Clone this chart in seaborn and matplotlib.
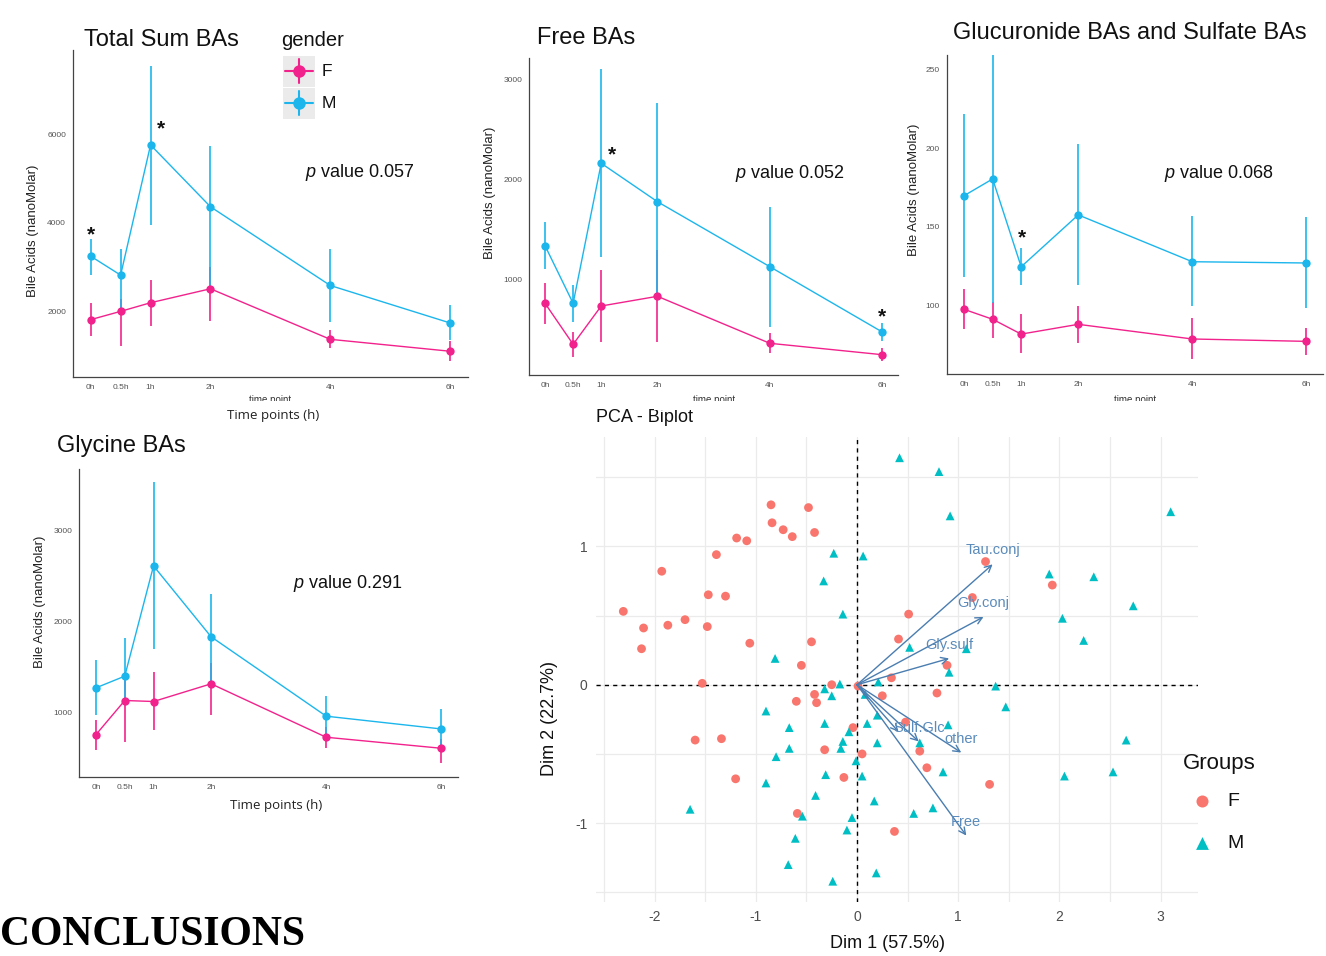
import numpy as np
import pandas as pd
import matplotlib
matplotlib.use('Agg')
import matplotlib.pyplot as plt
import seaborn as sns
from matplotlib.patches import Rectangle

# ---------------- data ----------------
times = [0, 0.5, 1, 2, 4, 6]
time_labels = ['0h', '0.5h', '1h', '2h', '4h', '6h']

total_F = [1828, 2014, 2208, 2522, 1386, 1118]
total_F_lo = [1453, 1245, 1693, 1789, 1194, 894]
total_F_hi = [2202, 2300, 2723, 3021, 1604, 1342]
total_M = [3254, 2829, 5754, 4365, 2596, 1754]
total_M_lo = [2842, 2050, 3955, 2550, 1767, 1380]
total_M_hi = [3648, 3424, 7539, 5725, 3424, 2157]
total_stars = [(0.0, 3881), (1.17, 6246)]

free_F = [767, 357, 740, 837, 367, 253]
free_F_lo = [560, 233, 383, 377, 273, 193]
free_F_hi = [973, 483, 1100, 1300, 467, 317]
free_M = [1343, 767, 2167, 1783, 1133, 480]
free_M_lo = [1107, 583, 1227, 870, 533, 393]
free_M_hi = [1583, 950, 3110, 2767, 1733, 567]
free_stars = [(1.19, 2317), (6.0, 693)]

gs_F = [97.7, 91.4, 82.0, 88.2, 78.9, 77.4]
gs_F_lo = [85.0, 79.3, 69.8, 76.1, 66.0, 68.5]
gs_F_hi = [110.4, 102.5, 94.7, 99.8, 92.0, 86.0]
gs_M = [169.8, 180.4, 124.7, 157.6, 127.9, 127.1]
gs_M_lo = [118.4, 102.0, 113.1, 113.1, 99.8, 98.4]
gs_M_hi = [221.6, 262.0, 136.4, 202.6, 156.9, 156.1]
gs_stars = [(1.02, 147)]

gly_F = [762, 1136, 1125, 1319, 733, 612]
gly_F_lo = [590, 681, 810, 982, 620, 455]
gly_F_hi = [927, 1450, 1444, 1550, 846, 719]
gly_M = [1275, 1403, 2612, 1835, 964, 824]
gly_M_lo = [975, 1100, 1696, 1323, 736, 609]
gly_M_hi = [1579, 1818, 3532, 2304, 1184, 1044]

pcaF_x = [-0.85, -0.48, -0.84, -0.73, -0.64, -0.42, -1.19, -1.09, -1.39, -1.93, -1.47, -1.30,
          -2.31, -2.11, -1.87, -1.70, -1.48, -2.13, -1.06, -0.45, -0.55, -1.53, -0.25, 0.51,
          0.41, 1.27, 1.93, 1.14, 0.89, 0.34, 0.25, 0.79, 0.01, -0.42, -0.60, -0.40, -0.04,
          -1.60, -1.34, -0.32, 0.05, 0.48, 0.62, 0.69, -1.20, -0.13, -0.59, 0.37, 1.31]
pcaF_y = [1.30, 1.28, 1.17, 1.12, 1.07, 1.10, 1.06, 1.04, 0.94, 0.82, 0.65, 0.64,
          0.53, 0.41, 0.43, 0.47, 0.42, 0.26, 0.30, 0.31, 0.14, 0.01, 0.00, 0.51,
          0.33, 0.89, 0.72, 0.63, 0.14, 0.05, -0.08, -0.06, -0.01, -0.07, -0.12, -0.13, -0.31,
          -0.40, -0.39, -0.47, -0.50, -0.27, -0.48, -0.60, -0.68, -0.67, -0.93, -1.06, -0.72]
pcaM_x = [0.42, 0.81, 0.92, 3.10, -0.23, 0.06, -0.33, -0.14, -0.81, -0.32, -0.17, -0.25,
          0.52, 0.21, 1.90, 2.34, 2.73, 2.03, 2.24, 1.08, 0.91, 1.37, 0.08, -0.90, -0.32,
          0.10, 0.20, -0.67, -0.08, -0.14, -0.16, -0.67, 0.20, -0.80, -0.01, -0.31, 0.05,
          -0.90, -0.41, 0.17, 0.75, 0.56, -1.65, -0.54, -0.05, -0.10, -0.61, -0.68, 0.19,
          -0.24, 1.47, 0.90, 2.66, 0.85, 2.05, 2.53, 0.62]
pcaM_y = [1.64, 1.54, 1.22, 1.25, 0.95, 0.93, 0.75, 0.51, 0.19, -0.03, 0.005, -0.08,
          0.27, 0.02, 0.80, 0.78, 0.57, 0.48, 0.32, 0.26, 0.09, -0.01, -0.07, -0.19, -0.28,
          -0.28, -0.22, -0.31, -0.34, -0.41, -0.46, -0.46, -0.42, -0.52, -0.55, -0.65, -0.66,
          -0.71, -0.80, -0.84, -0.89, -0.93, -0.90, -0.95, -0.96, -1.05, -1.11, -1.30, -1.36,
          -1.42, -0.16, -0.29, -0.40, -0.63, -0.66, -0.63, -0.42]

var_names = ['Tau.conj', 'Gly.conj', 'Gly.sulf', '', 'Sulf.Glc', 'other', 'Free']
var_x = [1.34, 1.25, 0.91, 0.41, 0.61, 1.03, 1.08]
var_y = [0.87, 0.49, 0.19, -0.34, -0.41, -0.49, -1.09]

# ---------------- style ----------------
sns.set_style('white')
plt.rcParams['font.family'] = ['Liberation Sans', 'DejaVu Sans']
plt.rcParams['mathtext.fontset'] = 'custom'
plt.rcParams['mathtext.it'] = 'Liberation Sans:italic'
plt.rcParams['mathtext.rm'] = 'Liberation Sans'
plt.rcParams['axes.unicode_minus'] = False

W, H = 1326, 956
fig = plt.figure(figsize=(W / 100, H / 100), dpi=100)
fig.patch.set_facecolor('white')

pal = {'F': '#F2228C', 'M': '#1CB6EC'}
pca_pal = {'F': '#F8766D', 'M': '#00BFC4'}


def px_axes(x0, y0, x1, y1):
    return fig.add_axes([x0 / W, 1 - y1 / H, (x1 - x0) / W, (y1 - y0) / H])


def line_panel(rect, F, Flo, Fhi, M, Mlo, Mhi, xlim, ylim, yticks, stars):
    ax = px_axes(*rect)
    df = pd.DataFrame({'time': times * 2, 'value': F + M,
                       'gender': ['F'] * 6 + ['M'] * 6})
    ax.vlines(times, Flo, Fhi, color=pal['F'], lw=1.2, zorder=2)
    ax.vlines(times, Mlo, Mhi, color=pal['M'], lw=1.2, zorder=2)
    sns.lineplot(data=df, x='time', y='value', hue='gender', palette=pal,
                 marker='o', markersize=6, markeredgewidth=0, linewidth=1.0,
                 errorbar=None, legend=False, ax=ax, zorder=3)
    for t, v in stars:
        ax.annotate('*', xy=(t, v), xytext=(0, -8.5), textcoords='offset points',
                    ha='center', va='baseline', fontsize=15, fontweight='bold',
                    color='#111111')
    ax.set_xlim(*xlim)
    ax.set_ylim(*ylim)
    ax.set_xticks(times)
    ax.set_xticklabels(time_labels)
    ax.set_yticks(yticks)
    ax.set_xlabel('')
    ax.set_ylabel('')
    for s in ['top', 'right']:
        ax.spines[s].set_visible(False)
    for s in ['left', 'bottom']:
        ax.spines[s].set_color('#444444')
        ax.spines[s].set_linewidth(0.9)
    ax.tick_params(axis='both', direction='out', length=3, width=0.6,
                   color='#444444', labelsize=6, labelcolor='#555555', pad=2)
    ax.patch.set_alpha(0)
    return ax


line_panel((73, 50, 468, 377), total_F, total_F_lo, total_F_hi,
           total_M, total_M_lo, total_M_hi, (-0.295, 6.30), (539, 7888),
           [2000, 4000, 6000], total_stars)
line_panel((529, 58, 898, 375), free_F, free_F_lo, free_F_hi,
           free_M, free_M_lo, free_M_hi, (-0.285, 6.28), (50, 3220),
           [1000, 2000, 3000], free_stars)
line_panel((947, 55, 1323, 374), gs_F, gs_F_lo, gs_F_hi,
           gs_M, gs_M_lo, gs_M_hi, (-0.30, 6.29), (56.7, 259),
           [100, 150, 200, 250], gs_stars)
line_panel((79, 469, 458, 777), gly_F, gly_F_lo, gly_F_hi,
           gly_M, gly_M_lo, gly_M_hi, (-0.295, 6.29), (297, 3675),
           [1000, 2000, 3000], [])

# ---------------- PCA biplot ----------------
axp = px_axes(596, 437, 1198, 902)
dfp = pd.DataFrame({'x': pcaF_x + pcaM_x, 'y': pcaF_y + pcaM_y,
                    'group': ['F'] * len(pcaF_x) + ['M'] * len(pcaM_x)})
axp.set_xlim(-2.58, 3.37)
axp.set_ylim(-1.57, 1.79)
axp.set_xticks([-2, -1, 0, 1, 2, 3])
axp.set_yticks([-1, 0, 1])
axp.set_xticks(np.arange(-2.5, 3.5, 1.0), minor=True)
axp.set_yticks([-1.5, -0.5, 0.5, 1.5], minor=True)
axp.grid(which='both', color='#EBEBEB', lw=0.9)
axp.set_axisbelow(True)
for s in axp.spines.values():
    s.set_visible(False)
axp.tick_params(which='major', length=4, width=0.8, color='#444444',
                labelsize=10, labelcolor='#4D4D4D', pad=2)
axp.tick_params(which='minor', length=0)
axp.axhline(0, color='black', lw=1, ls=(0, (3, 3)), zorder=2)
axp.axvline(0, color='black', lw=1, ls=(0, (3, 3)), zorder=2)
sns.scatterplot(data=dfp, x='x', y='y', hue='group', style='group',
                palette=pca_pal, markers={'F': 'o', 'M': '^'}, s=40,
                linewidth=0, legend=False, ax=axp, zorder=3)
arrow_col = '#4A7DB0'
for name, vx, vy in zip(var_names, var_x, var_y):
    axp.annotate('', xy=(vx, vy), xytext=(0, 0),
                 arrowprops=dict(arrowstyle='->', color=arrow_col, lw=1.0,
                                 mutation_scale=12, shrinkA=0, shrinkB=0),
                 zorder=4)
    if name:
        axp.text(vx, vy + 0.1, name, color='#5A8BBB', fontsize=10.5,
                 ha='center', va='center', zorder=5)
axp.set_xlabel('')
axp.set_ylabel('')

# ---------------- overlay texts ----------------
ov = fig.add_axes([0, 0, 1, 1])
ov.set_xlim(0, W)
ov.set_ylim(H, 0)
ov.axis('off')
ov.patch.set_alpha(0)
ov.set_zorder(10)

title_kw = dict(fontsize=17, ha='left', va='center', color='#111111')
ov.text(84, 40, 'Total Sum BAs', **title_kw)
ov.text(537, 38, 'Free BAs', **title_kw)
ov.text(953, 33, 'Glucuronide BAs and Sulfate BAs', **title_kw)
ov.text(57, 446, 'Glycine BAs', **title_kw)

pv_kw = dict(fontsize=13, ha='center', va='center', color='#111111')
ov.text(360, 172, r'$\mathit{p}$ value 0.057', **pv_kw)
ov.text(790, 173, r'$\mathit{p}$ value 0.052', **pv_kw)
ov.text(1219, 173, r'$\mathit{p}$ value 0.068', **pv_kw)
ov.text(348, 584, r'$\mathit{p}$ value 0.291', **pv_kw)

yl_kw = dict(fontsize=9.5, rotation=90, ha='center', va='center', color='#222222')
ov.text(33, 231, 'Bile Acids (nanoMolar)', **yl_kw)
ov.text(490, 193, 'Bile Acids (nanoMolar)', **yl_kw)
ov.text(914, 190, 'Bile Acids (nanoMolar)', **yl_kw)
ov.text(40, 602, 'Bile Acids (nanoMolar)', **yl_kw)

for cx in [270, 714, 1135]:
    ov.text(cx, 395, 'time point', fontsize=7, ha='center', va='top', color='#333333')
    ov.add_patch(Rectangle((cx - 60, 401), 120, 9, fc='white', ec='none', zorder=5))

ov.text(273, 416, 'Time points (h)', fontsize=9.5, ha='center', va='center',
        color='#222222', family=['Open Sans', 'DejaVu Sans'], zorder=6)
ov.text(276, 806, 'Time points (h)', fontsize=9.5, ha='center', va='center',
        color='#222222', family=['Open Sans', 'DejaVu Sans'], zorder=6)

# gender legend
ov.text(281, 40, 'gender', fontsize=14.5, ha='left', va='center', color='#111111')
for g, cy in [('F', 71), ('M', 103)]:
    ov.add_patch(Rectangle((283, cy - 15.5), 32, 31, fc='#EBEBEB', ec='none'))
    ov.plot([285, 313], [cy, cy], color=pal[g], lw=1.5)
    ov.plot([299, 299], [cy - 12, cy + 12], color=pal[g], lw=1.5)
    ov.plot([299], [cy], 'o', color=pal[g], ms=9, mew=0)
    ov.text(322, cy, g, fontsize=12.5, ha='left', va='center', color='#111111')

# PCA texts
ov.text(596, 418, 'PCA - Biplot', fontsize=13, ha='left', va='center', color='#111111')
ov.text(888, 943, 'Dim 1 (57.5%)', fontsize=13, ha='center', va='center', color='#111111')
ov.text(550, 718, 'Dim 2 (22.7%)', fontsize=13, rotation=90, ha='center',
        va='center', color='#111111')
ov.text(1183, 763, 'Groups', fontsize=16, ha='left', va='center', color='#111111')
ov.scatter([1202], [801], s=75, marker='o', color=pca_pal['F'], lw=0)
ov.scatter([1202], [843], s=85, marker='^', color=pca_pal['M'], lw=0)
ov.text(1227, 801, 'F', fontsize=14, ha='left', va='center', color='#111111')
ov.text(1227, 843, 'M', fontsize=14, ha='left', va='center', color='#111111')

ov.text(0, 945, 'CONCLUSIONS', fontsize=30, fontweight='bold', ha='left',
        va='baseline', family=['Liberation Serif', 'DejaVu Serif'], color='black')

fig.savefig('out.png', dpi=100, facecolor='white')
